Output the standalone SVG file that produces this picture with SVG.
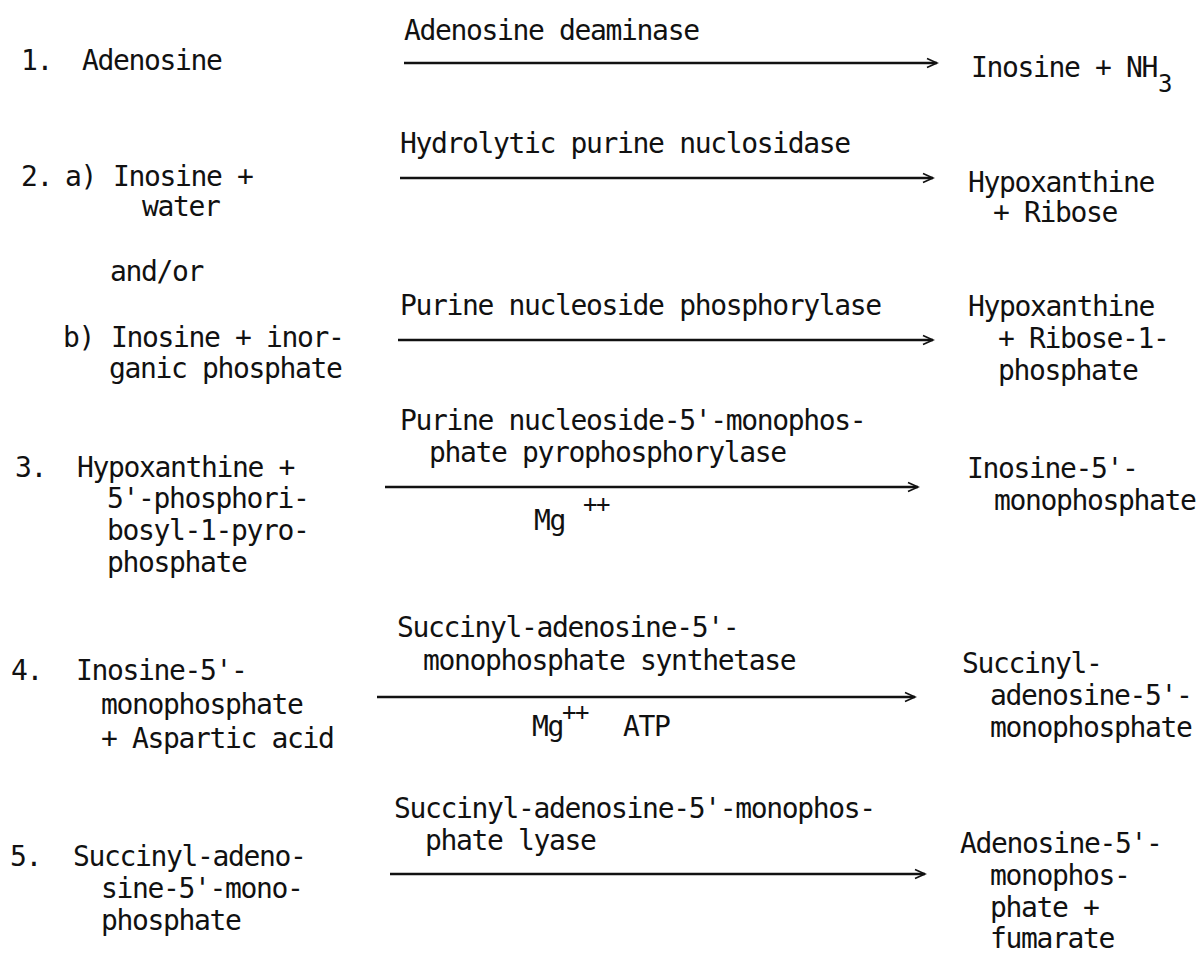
<svg xmlns="http://www.w3.org/2000/svg" width="1197" height="954" viewBox="0 0 1197 954">
<defs>
<style>
text{font-family:"DejaVu Sans Mono","Liberation Mono",monospace;font-size:28px;letter-spacing:-1.35px;fill:#111}
.sup{font-size:24px}
.arr{stroke:#111;stroke-width:2.4;fill:none}
</style>
<marker id="ah" markerUnits="userSpaceOnUse" markerWidth="14" markerHeight="12" refX="11" refY="6" orient="auto">
<path d="M1,1.5 L11,6 L1,10.5" fill="none" stroke="#111" stroke-width="1.6"/>
</marker>
</defs>
<rect width="1197" height="954" fill="#fff"/>
<g id="connectors">
<line class="arr" x1="404" y1="63" x2="937" y2="63" marker-end="url(#ah)"/>
<line class="arr" x1="400" y1="178" x2="933" y2="178" marker-end="url(#ah)"/>
<line class="arr" x1="398" y1="340" x2="933" y2="340" marker-end="url(#ah)"/>
<line class="arr" x1="385" y1="487" x2="918" y2="487" marker-end="url(#ah)"/>
<line class="arr" x1="377" y1="697" x2="915" y2="697" marker-end="url(#ah)"/>
<line class="arr" x1="390" y1="874" x2="925" y2="874" marker-end="url(#ah)"/>
</g>
<g id="r1-substrate"><text x="21" y="70">1.</text><text x="82" y="70">Adenosine</text></g>
<g id="r1-enzyme"><text x="404" y="40">Adenosine deaminase</text></g>
<g id="r1-product"><text x="971" y="77">Inosine + NH</text><text class="sup" x="1158" y="92">3</text></g>
<g id="r2a-substrate"><text x="21" y="186">2.</text><text x="65" y="186">a)</text><text x="113" y="186">Inosine +</text><text x="142" y="216">water</text></g>
<g id="r2a-enzyme"><text x="400" y="153">Hydrolytic purine nuclosidase</text></g>
<g id="r2a-product"><text x="968" y="192">Hypoxanthine</text><text x="993" y="222">+ Ribose</text></g>
<g id="andor"><text x="110" y="281">and/or</text></g>
<g id="r2b-substrate"><text x="63" y="347">b)</text><text x="111" y="347">Inosine + inor-</text><text x="109" y="378">ganic phosphate</text></g>
<g id="r2b-enzyme"><text x="400" y="315">Purine nucleoside phosphorylase</text></g>
<g id="r2b-product"><text x="968" y="316">Hypoxanthine</text><text x="998" y="348">+ Ribose-1-</text><text x="998" y="380">phosphate</text></g>
<g id="r3-substrate"><text x="15" y="477">3.</text><text x="77" y="477">Hypoxanthine +</text><text x="107" y="508">5'-phosphori-</text><text x="107" y="540">bosyl-1-pyro-</text><text x="107" y="572">phosphate</text></g>
<g id="r3-enzyme"><text x="400" y="430">Purine nucleoside-5'-monophos-</text><text x="429" y="462">phate pyrophosphorylase</text><text x="534" y="530">Mg</text><text class="sup" x="583" y="512">++</text></g>
<g id="r3-product"><text x="967" y="478">Inosine-5'-</text><text x="994" y="510">monophosphate</text></g>
<g id="r4-substrate"><text x="11" y="680">4.</text><text x="76" y="680">Inosine-5'-</text><text x="101" y="714">monophosphate</text><text x="101" y="748">+ Aspartic acid</text></g>
<g id="r4-enzyme"><text x="397" y="637">Succinyl-adenosine-5'-</text><text x="423" y="670">monophosphate synthetase</text><text x="532" y="736">Mg</text><text class="sup" x="562" y="720">++</text><text x="623" y="736">ATP</text></g>
<g id="r4-product"><text x="962" y="673">Succinyl-</text><text x="990" y="705">adenosine-5'-</text><text x="990" y="737">monophosphate</text></g>
<g id="r5-substrate"><text x="10" y="866">5.</text><text x="73" y="866">Succinyl-adeno-</text><text x="101" y="898">sine-5'-mono-</text><text x="101" y="930">phosphate</text></g>
<g id="r5-enzyme"><text x="394" y="818">Succinyl-adenosine-5'-monophos-</text><text x="425" y="850">phate lyase</text></g>
<g id="r5-product"><text x="960" y="853">Adenosine-5'-</text><text x="990" y="885">monophos-</text><text x="990" y="917">phate +</text><text x="990" y="948">fumarate</text></g>
</svg>
